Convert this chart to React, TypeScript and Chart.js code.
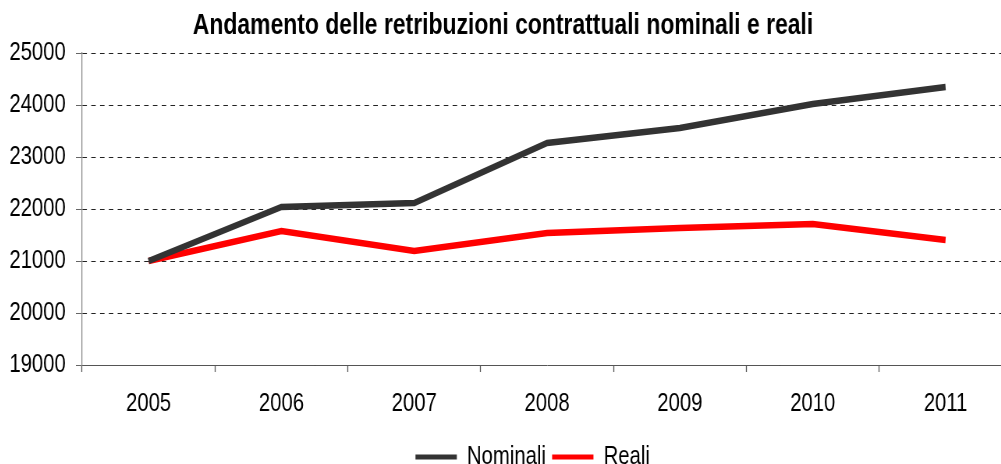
import React, { useEffect, useRef } from "react";
import { Chart, registerables } from "chart.js";

Chart.register(...registerables);

const categories = ["2005", "2006", "2007", "2008", "2009", "2010", "2011"];
const nominali = [21000, 22030, 22110, 23260, 23560, 24020, 24350];
const reali = [21000, 21580, 21190, 21540, 21640, 21720, 21410];
const yMin = 19000;
const yMax = 25000;
const yStep = 1000;

// The reference uses a narrow face; Liberation Sans drawn on a canvas that is
// displayed horizontally condensed gives the same look.
const SX = 0.78;
const CSS_W = 1018;
const CSS_H = 480;
const INNER_W = Math.round(CSS_W / SX);
const FONT = "'Liberation Sans', Arial, sans-serif";

const legendShift = {
  id: "legendShift",
  afterLayout(chart: any) {
    const l = chart.legend;
    if (l) {
      l.left += 38;
      l.right += 38;
    }
  },
};

export default function App() {
  const ref = useRef<HTMLCanvasElement | null>(null);
  useEffect(() => {
    if (!ref.current) return;
    const chart = new Chart(ref.current, {
      type: "line",
      data: {
        labels: categories,
        datasets: [
          {
            label: "Nominali",
            data: nominali,
            borderColor: "#333333",
            backgroundColor: "#333333",
            borderWidth: 6.5,
            pointRadius: 0,
            tension: 0,
          },
          {
            label: "Reali",
            data: reali,
            borderColor: "#ff0000",
            backgroundColor: "#ff0000",
            borderWidth: 6.5,
            pointRadius: 0,
            tension: 0,
          },
        ],
      },
      options: {
        animation: false,
        responsive: false,
        maintainAspectRatio: false,
        devicePixelRatio: 1,
        layout: { padding: 0 },
        plugins: {
          title: {
            display: true,
            text: "Andamento delle retribuzioni contrattuali nominali e reali",
            color: "#000",
            font: { family: FONT, size: 29.4, weight: "bold" },
            padding: { top: 8.3, bottom: 9.4 },
          },
          legend: {
            position: "bottom",
            labels: {
              color: "#000",
              font: { family: FONT, size: 26 },
              boxWidth: 53,
              boxHeight: 5,
              padding: 8,
              generateLabels: (c: any) => {
                const items = Chart.defaults.plugins.legend.labels.generateLabels(c);
                return items.map((it: any) => ({ ...it, lineWidth: 0, fillStyle: it.strokeStyle }));
              },
            },
          },
          tooltip: { enabled: false },
        },
        scales: {
          x: {
            type: "category",
            offset: true,
            afterFit: (s: any) => {
              s.height = 71;
            },
            grid: {
              offset: true,
              drawOnChartArea: false,
              drawTicks: true,
              tickLength: 7,
              tickWidth: 1.3,
              color: "#555",
            },
            border: { display: true, color: "#555", width: 1 },
            ticks: {
              color: "#000",
              font: { family: FONT, size: 26 },
              padding: 16,
              maxRotation: 0,
              autoSkip: false,
            },
          },
          y: {
            min: yMin,
            max: yMax,
            alignToPixels: true,
            afterFit: (s: any) => {
              s.width = 113;
            },
            grid: {
              color: "#222",
              tickLength: 8,
              tickColor: "#666",
              tickBorderDash: [],
            },
            border: { display: true, color: "#888", width: 1.3, dash: [5.8, 5.5] },
            ticks: {
              stepSize: yStep,
              color: "#000",
              font: { family: FONT, size: 26 },
              padding: 13,
              callback: (v: any) => String(v),
            },
          },
        },
      },
      plugins: [legendShift],
    });
    return () => chart.destroy();
  }, []);
  return (
    <div style={{ position: "absolute", left: 0, top: 0, width: 1001, height: 464, overflow: "hidden", background: "#fff" }}>
      <canvas
        ref={ref}
        width={INNER_W}
        height={CSS_H}
        style={{ position: "absolute", left: -6, top: 0, width: CSS_W, height: CSS_H }}
      />
    </div>
  );
}
